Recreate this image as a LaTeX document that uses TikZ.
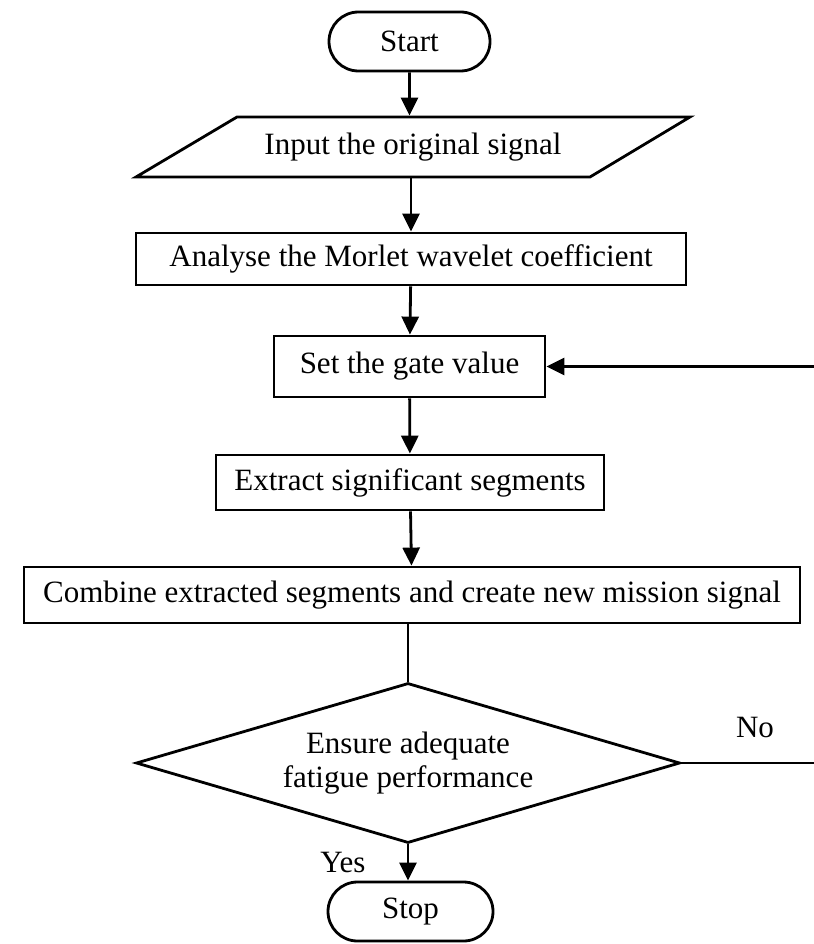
\documentclass[tikz,border=0pt]{standalone}
\usepackage{fontspec}
\setmainfont{Liberation Serif}
\usetikzlibrary{arrows.meta,shapes.geometric,shapes.misc}

\begin{document}
\begin{tikzpicture}[x=1pt,y=-1pt,
  line width=2.8pt,
  >={Triangle[length=18pt,width=17pt]},
  font=\fontsize{31}{34}\selectfont,
  flow/.style={->},
  terminal/.style={draw, rounded rectangle, inner sep=0pt},
  process/.style={draw, rectangle, inner sep=0pt},
  decision/.style={draw, diamond, inner sep=0pt, shape aspect=3.4, align=center},
  label/.style={inner sep=0pt}]
\useasboundingbox (0,0) rectangle (813,944);

% flow steps
\node[terminal, minimum width=161pt, minimum height=59pt] (start) at (409.5,41.5) {Start};
\node[inner sep=0pt, minimum width=454pt, minimum height=60pt] (input) at (413,147) {Input the original signal};
\draw (237,117) -- (690,117) -- (590,177) -- (136,177) -- cycle;
\node[process, minimum width=550pt, minimum height=52pt] (analyse) at (411,259) {Analyse the Morlet wavelet coefficient};
\node[process, minimum width=271pt, minimum height=61pt] (gate) at (409.5,366.5) {Set the gate value};
\node[process, minimum width=388pt, minimum height=55pt] (extract) at (410,482.5) {Extract significant segments};
\node[process, minimum width=776pt, minimum height=56pt] (combine) at (412,595) {Combine extracted segments and create new mission signal};
\node[decision, minimum width=544pt, minimum height=160pt] (check) at (408,763) {Ensure adequate\\fatigue performance};
\node[terminal, minimum width=165pt, minimum height=59pt] (stop) at (410.5,911.5) {Stop};

% labels on the decision branches
\node[label] (no) at (755,727) {No};
\node[label] (yes) at (343,862) {Yes};

% connectors
\draw[flow] (start) -- (start |- input.north);
\draw[flow] (input.south -| analyse.north) -- (analyse);
\draw[flow] (analyse) -- (gate);
\draw[flow] (gate) -- (extract);
\draw[flow] (extract) -- (combine);
\draw (combine.south -| check.north) -- (check.north);
\draw[flow] (check.south) -- (check.south |- stop.north);

% loop back when the check fails
\coordinate (back) at (830,763);
\draw[flow] (check.east) -- (back) |- (gate.east);
\end{tikzpicture}
\end{document}
